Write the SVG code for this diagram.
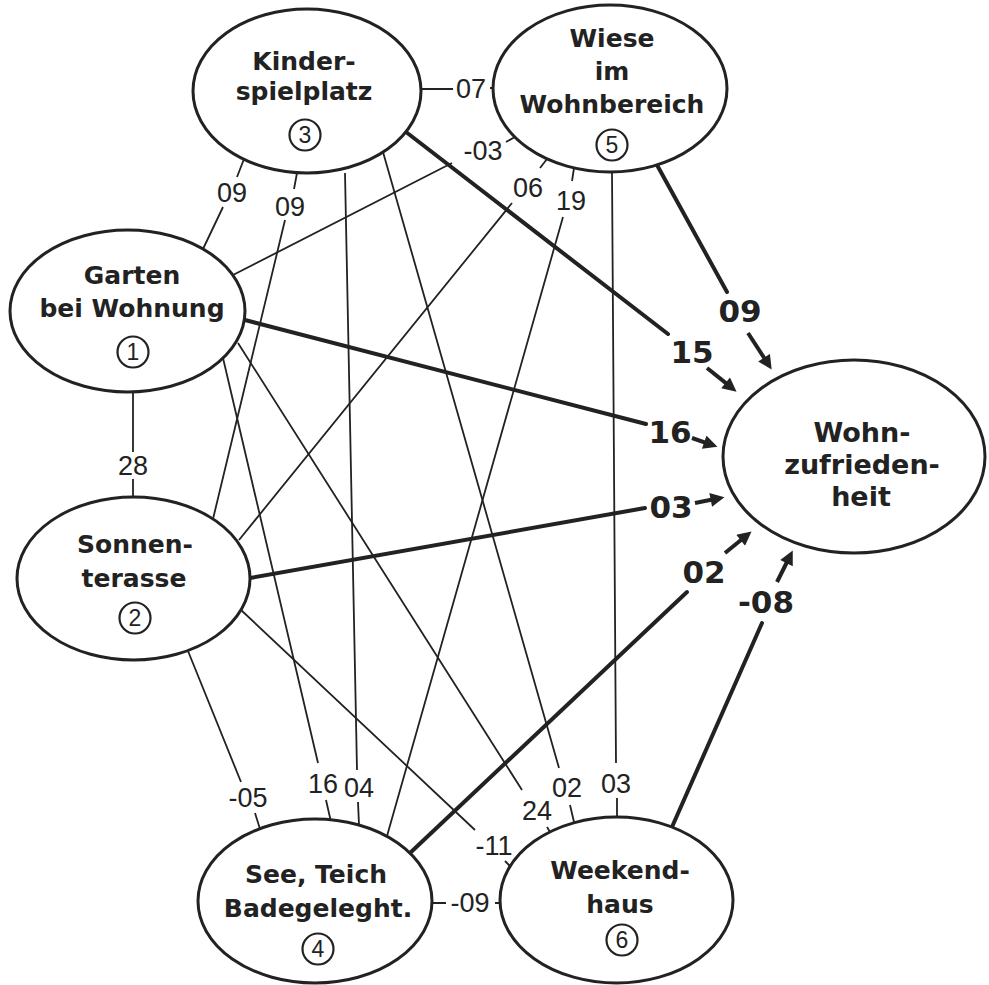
<svg xmlns="http://www.w3.org/2000/svg" width="989" height="985" viewBox="0 0 989 985">
<defs>
<style>
.bg{fill:#ffffff}
.node ellipse{fill:#ffffff;stroke:#222;stroke-width:3}
.node text.t{font-family:"DejaVu Sans","Liberation Sans",sans-serif;font-weight:bold;font-size:25px;text-anchor:middle;fill:#222}
.node circle{fill:none;stroke:#222;stroke-width:2.2}
.node text.n{font-family:"Liberation Sans",sans-serif;font-size:23px;text-anchor:middle;fill:#222}
.node text.big{font-family:"DejaVu Sans","Liberation Sans",sans-serif;font-weight:bold;font-size:27px;text-anchor:middle;fill:#222}
.thin{stroke:#222;stroke-width:1.8;fill:none}
.thick{stroke:#222;stroke-width:4;fill:none;stroke-linecap:round}
.arr{stroke:#222;stroke-width:4;fill:none;marker-end:url(#ah)}
.w{font-family:"Liberation Sans",sans-serif;font-size:27px;text-anchor:middle;fill:#222}
.bw{font-family:"DejaVu Sans","Liberation Sans",sans-serif;font-weight:bold;font-size:31px;text-anchor:middle;fill:#222}
</style>
<marker id="ah" viewBox="0 0 10 10" refX="4" refY="5" markerUnits="userSpaceOnUse" markerWidth="15" markerHeight="14" orient="auto">
<path d="M0,0 L10,5 L0,10 z" fill="#222"/>
</marker>
</defs>
<rect class="bg" x="0" y="0" width="989" height="985"/>
<g id="connectors">
<!-- 1-2 : 28 -->
<path class="thin" d="M133,392 V452 M133,479 V497"/>
<text class="w" x="133" y="475">28</text>
<!-- 1-3 : 09 -->
<path class="thin" d="M203,249 L223,207 M237,177 L244,159"/>
<text class="w" x="232" y="202">09</text>
<!-- 2-3 : 09 -->
<path class="thin" d="M213,519 L285,220 M294,189 L297,173"/>
<text class="w" x="290" y="216">09</text>
<!-- 1-5 : -03 -->
<path class="thin" d="M233,275 L452,163 M506,142 L515,137"/>
<text class="w" x="483" y="160">-03</text>
<!-- 3-5 : 07 -->
<path class="thin" d="M421,89 L453,89 M490,88 L494,88"/>
<text class="w" x="471" y="98">07</text>
<!-- 2-5 : 06 -->
<path class="thin" d="M239,540 L512,203 M540,168 L547,159"/>
<text class="w" x="528" y="197">06</text>
<!-- 4-5 : 19 -->
<path class="thin" d="M387,836 L563,217 M572,181 L574,168"/>
<text class="w" x="571" y="210">19</text>
<!-- 3-4 : 04 -->
<path class="thin" d="M345,173 L357,770 M358,802 L359,825"/>
<text class="w" x="359" y="797">04</text>
<!-- 1-4 : 16 -->
<path class="thin" d="M223,358 L318,763 M326,800 L331,822"/>
<text class="w" x="323" y="793">16</text>
<!-- 2-4 : -05 -->
<path class="thin" d="M188,651 L241,782 M255,813 L260,829"/>
<text class="w" x="248" y="807">-05</text>
<!-- 3-6 : 02 -->
<path class="thin" d="M383,152 L559,768 M570,805 L574,822"/>
<text class="w" x="567" y="797">02</text>
<!-- 1-6 : 24 -->
<path class="thin" d="M238,343 L522,790 M547,827 L550,832"/>
<text class="w" x="537" y="820">24</text>
<!-- 2-6 : -11 -->
<path class="thin" d="M241,610 L475,830 M505,861 L510,866"/>
<text class="w" x="494" y="855">-11</text>
<!-- 5-6 : 03 -->
<path class="thin" d="M612,172 L616,763 M617,798 V817"/>
<text class="w" x="616" y="793">03</text>
<!-- 4-6 : -09 -->
<path class="thin" d="M432,903 H446 M495,903 H500"/>
<text class="w" x="470" y="912">-09</text>
<!-- to Wohnzufriedenheit -->
<path class="thick" d="M406,132 L668,334"/>
<text class="bw" x="692" y="363">15</text>
<path class="arr" d="M707,368 L730,386.4"/>
<path class="thick" d="M657,165 L727,292"/>
<text class="bw" x="740" y="322">09</text>
<path class="arr" d="M748,333 L767.1,362.4"/>
<path class="thick" d="M245,320 L646,424"/>
<text class="bw" x="670" y="443">16</text>
<path class="arr" d="M692,438 L709.5,444.1"/>
<path class="thick" d="M250,578 L645,508"/>
<text class="bw" x="671" y="518">03</text>
<path class="arr" d="M695,503 L716.2,498.8"/>
<path class="thick" d="M410,853 L687,592"/>
<text class="bw" x="704" y="583">02</text>
<path class="arr" d="M725,553 L745,536.7"/>
<path class="thick" d="M672,827 L762,623"/>
<text class="bw" x="766" y="613">-08</text>
<path class="arr" d="M777,582 L789,558"/>
</g>
<g id="node3" class="node">
<ellipse cx="307" cy="91" rx="114" ry="82"/>
<text class="t" x="304" y="70">Kinder-</text>
<text class="t" x="304" y="100">spielplatz</text>
<circle cx="305" cy="135" r="15.5"/>
<text class="n" x="305" y="143">3</text>
</g>
<g id="node5" class="node">
<ellipse cx="610" cy="88.5" rx="117" ry="83.5"/>
<text class="t" x="612" y="47">Wiese</text>
<text class="t" x="612" y="80">im</text>
<text class="t" x="612" y="113">Wohnbereich</text>
<circle cx="612" cy="145" r="15.5"/>
<text class="n" x="612" y="153">5</text>
</g>
<g id="node1" class="node">
<ellipse cx="127.5" cy="311" rx="117.5" ry="81"/>
<text class="t" x="132" y="284">Garten</text>
<text class="t" x="132" y="317">bei Wohnung</text>
<circle cx="133" cy="352" r="15.5"/>
<text class="n" x="133" y="360">1</text>
</g>
<g id="node2" class="node">
<ellipse cx="133.5" cy="578.5" rx="116.5" ry="81.5"/>
<text class="t" x="135" y="553">Sonnen-</text>
<text class="t" x="134" y="587">terasse</text>
<circle cx="135" cy="618" r="15.5"/>
<text class="n" x="135" y="626">2</text>
</g>
<g id="node4" class="node">
<ellipse cx="315" cy="901" rx="117" ry="82"/>
<text class="t" x="316" y="883">See, Teich</text>
<text class="t" x="318" y="917">Badegeleght.</text>
<circle cx="318" cy="949" r="15.5"/>
<text class="n" x="318" y="957">4</text>
</g>
<g id="node6" class="node">
<ellipse cx="616.5" cy="900" rx="116.5" ry="83"/>
<text class="t" x="620" y="879">Weekend-</text>
<text class="t" x="620" y="913">haus</text>
<circle cx="622" cy="940" r="15.5"/>
<text class="n" x="622" y="948">6</text>
</g>
<g id="nodeW" class="node">
<ellipse cx="854" cy="456.5" rx="131" ry="96.5"/>
<text class="big" x="862" y="442">Wohn-</text>
<text class="big" x="862" y="474">zufrieden-</text>
<text class="big" x="861" y="506">heit</text>
</g>
</svg>
